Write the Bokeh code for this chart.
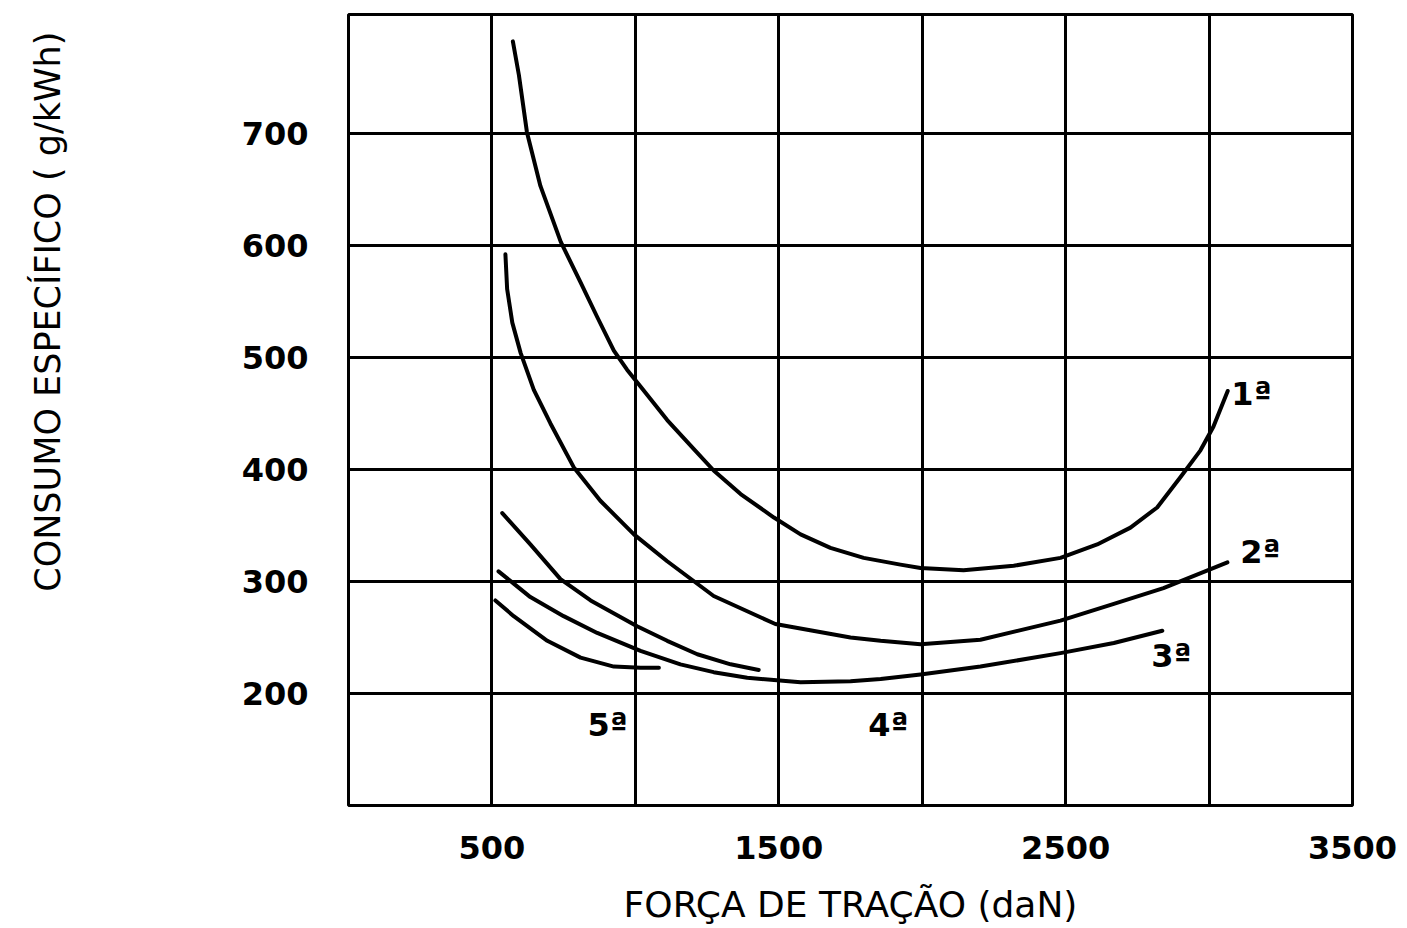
import math
from bokeh.plotting import figure
from bokeh.layouts import row
from bokeh.models import Range1d, FixedTicker, ColumnDataSource
from bokeh.core.properties import value
from bokeh.embed import file_html
from bokeh.resources import INLINE

# axis ticks
x_tick_labels = [500, 1500, 2500, 3500]
x_grid_ticks = [500, 1000, 1500, 2000, 2500, 3000]
y_tick_labels = [200, 300, 400, 500, 600, 700]

# curves (força de tração daN, consumo específico g/kWh)
g1_x = [573, 594, 622, 669, 740, 809, 867, 925, 971, 1018, 1111, 1204, 1273, 1367, 1483,
        1576, 1680, 1796, 1924, 1994, 2144, 2319, 2482, 2610, 2726, 2819, 2900, 2970, 3015, 3065]
g1_y = [782, 752, 701, 653, 603, 567, 536, 506, 489, 474, 444, 418, 399, 378, 357,
        342, 330, 321, 315, 312, 310, 314, 321, 333, 348, 366, 393, 417, 438, 470]

g2_x = [547, 553, 571, 600, 646, 704, 785, 878, 995, 1111, 1273, 1488, 1750, 1855, 1994,
        2203, 2482, 2668, 2841, 3064]
g2_y = [592, 561, 531, 504, 471, 441, 402, 372, 342, 318, 287, 262, 250, 247, 244,
        248, 265, 280, 294, 317]

g3_x = [523, 576, 634, 750, 867, 1018, 1157, 1273, 1390, 1576, 1750, 1855, 1994, 2203,
        2482, 2668, 2837]
g3_y = [309, 298, 286, 269, 254, 238, 226, 219, 214, 210, 211, 213, 217, 224,
        236, 245, 256]

g4_x = [536, 634, 739, 844, 1006, 1111, 1216, 1332, 1430]
g4_y = [361, 333, 302, 283, 260, 247, 235, 226, 221]

g5_x = [512, 576, 693, 809, 925, 1018, 1082]
g5_y = [283, 269, 247, 232, 224, 223, 223]

gear_labels = ["1ª", "2ª", "3ª", "4ª", "5ª"]
label_x = [3148, 3179, 2869, 1882, 903]
label_y = [467, 326, 233, 172, 172]

x_title = "FORÇA DE TRAÇÃO (daN)"
y_title = "CONSUMO ESPECÍFICO ( g/kWh)"

H = 928
LW = 70  # width of the strip holding the vertical axis title

# ---- vertical axis title strip ----
lab = figure(width=LW, height=H, x_range=Range1d(0, LW), y_range=Range1d(0, H),
             output_backend="svg", toolbar_location=None,
             x_axis_type=None, y_axis_type=None,
             min_border_left=0, min_border_right=0, min_border_top=0, min_border_bottom=0)
lab.outline_line_color = None
lab.xgrid.visible = False
lab.ygrid.visible = False
lab.background_fill_color = "white"
lab.border_fill_color = "white"
lab.text(x=[47], y=[H - 20], text=[y_title], angle=math.pi / 2,
         text_align="right", text_baseline="middle",
         text_font=value("DejaVu Sans"), text_font_size="35px", text_color="black")

# ---- main chart ----
p = figure(width=1399 - LW, height=H,
           x_range=Range1d(0, 3500), y_range=Range1d(100, 806),
           output_backend="svg", toolbar_location=None,
           min_border_left=348 - LW, min_border_right=47,
           min_border_top=14, min_border_bottom=123)

p.background_fill_color = "white"
p.border_fill_color = "white"
p.outline_line_color = "black"
p.outline_line_width = 3

for xs, ys in [(g1_x, g1_y), (g2_x, g2_y), (g3_x, g3_y), (g4_x, g4_y), (g5_x, g5_y)]:
    p.line(xs, ys, line_color="black", line_width=4, line_join="round", line_cap="round")

src = ColumnDataSource(dict(x=label_x, y=label_y, t=gear_labels))
p.text(x="x", y="y", text="t", source=src, text_align="center", text_baseline="middle",
       text_font=value("DejaVu Sans"), text_font_style="bold", text_font_size="32px",
       text_color="black")

p.xaxis.ticker = FixedTicker(ticks=x_tick_labels)
p.xgrid.ticker = FixedTicker(ticks=x_grid_ticks)
p.yaxis.ticker = FixedTicker(ticks=y_tick_labels)
p.ygrid.ticker = FixedTicker(ticks=y_tick_labels)

for g in (p.xgrid, p.ygrid):
    g.grid_line_color = "black"
    g.grid_line_width = 3
    g.grid_line_alpha = 1.0

for ax in (p.xaxis, p.yaxis):
    ax.axis_line_color = None
    ax.major_tick_line_color = None
    ax.minor_tick_line_color = None
    ax.major_label_text_font = "DejaVu Sans"
    ax.major_label_text_font_style = "bold"
    ax.major_label_text_font_size = "32px"
    ax.major_label_text_color = "black"

p.yaxis.major_label_standoff = 34
p.xaxis.major_label_standoff = 24

p.xaxis.axis_label = x_title
p.xaxis.axis_label_text_font = "DejaVu Sans"
p.xaxis.axis_label_text_font_style = "normal"
p.xaxis.axis_label_text_font_size = "36px"
p.xaxis.axis_label_text_color = "black"
p.xaxis.axis_label_standoff = 22

layout = row(lab, p)
open("out.html", "w").write(file_html(layout, INLINE))
